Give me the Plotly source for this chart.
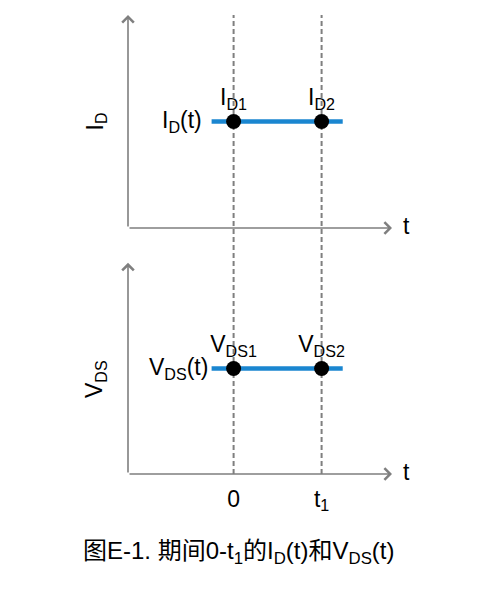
import plotly.graph_objects as go

# time instants marked on the t axis
t_marks = [0, 1]
t_labels = ["0", "t<sub>1</sub>"]
# extent of the plotted waveforms
t_span = [-0.25, 1.24]
t_axis = [-1.2, 1.8]

id_level = [0.5, 0.5]
vds_level = [0.5, 0.5]
id_point_labels = ["I<sub>D1</sub>", "I<sub>D2</sub>"]
vds_point_labels = ["V<sub>DS1</sub>", "V<sub>DS2</sub>"]

FONT = "Liberation Sans, Arial, Noto Sans CJK SC, sans-serif"
BLUE = "#1a86d0"
GRAY = "#7f7f7f"
FS = 23

fig = go.Figure()

for xa, ya, level, labels in [("x", "y", id_level, id_point_labels),
                              ("x2", "y2", vds_level, vds_point_labels)]:
    fig.add_trace(go.Scatter(x=t_span, y=level, mode="lines", xaxis=xa, yaxis=ya,
                             line=dict(color=BLUE, width=4.5), hoverinfo="skip"))
    fig.add_trace(go.Scatter(x=t_marks, y=level, mode="markers+text", xaxis=xa, yaxis=ya,
                             marker=dict(color="black", size=15),
                             text=labels, textposition="top center",
                             textfont=dict(size=FS, color="black", family=FONT),
                             hoverinfo="skip"))

# dashed markers at 0 and t1 crossing both panels
for t in t_marks:
    fig.add_shape(type="line", xref="x", yref="paper", x0=t, x1=t, y0=0.0, y1=1.0,
                  line=dict(color=GRAY, width=2, dash="5px,3px"), layer="below")

ann = []
# axes with arrowheads
for xr, yr in [("x", "y"), ("x2", "y2")]:
    ann.append(dict(x=t_axis[1], y=0, ax=t_axis[0], ay=0, xref=xr, yref=yr, axref=xr, ayref=yr,
                    showarrow=True, arrowhead=4, arrowsize=1.4, arrowwidth=1.6, arrowcolor=GRAY, text=""))
    ann.append(dict(x=t_axis[0], y=1, ax=t_axis[0], ay=0, xref=xr, yref=yr, axref=xr, ayref=yr,
                    showarrow=True, arrowhead=4, arrowsize=1.4, arrowwidth=1.6, arrowcolor=GRAY, text=""))
    ann.append(dict(x=t_axis[1], y=0, xref=xr, yref=yr, text="t", showarrow=False,
                    xanchor="left", xshift=9, yshift=2, font=dict(size=FS)))

ann += [
    dict(x=t_span[0], y=id_level[0], xref="x", yref="y", text="I<sub>D</sub>(t)", showarrow=False,
         xanchor="right", xshift=-8, font=dict(size=FS)),
    dict(x=t_span[0], y=vds_level[0], xref="x2", yref="y2", text="V<sub>DS</sub>(t)", showarrow=False,
         xanchor="right", xshift=-2, font=dict(size=FS)),
    dict(x=t_axis[0], y=0.5, xref="x", yref="y", text="I<sub>D</sub>", showarrow=False,
         textangle=-90, xshift=-32, font=dict(size=FS)),
    dict(x=t_axis[0], y=0.45, xref="x2", yref="y2", text="V<sub>DS</sub>", showarrow=False,
         textangle=-90, xshift=-32, font=dict(size=FS)),
    dict(x=0.5, y=-0.21, xref="paper", yref="paper",
         text="图E-1. 期间0-t<sub>1</sub>的I<sub>D</sub>(t)和V<sub>DS</sub>(t)",
         showarrow=False, font=dict(size=24), xshift=-22),
]

axis_common = dict(range=t_axis, showgrid=False, zeroline=False, showline=False)
fig.update_layout(
    width=479, height=591,
    margin=dict(l=120, r=95, t=7, b=125),
    paper_bgcolor="white", plot_bgcolor="white",
    showlegend=False,
    font=dict(family=FONT, size=FS, color="black"),
    xaxis=dict(axis_common, anchor="y", showticklabels=False),
    yaxis=dict(range=[0, 1], domain=[0.536, 1], showgrid=False, zeroline=False,
               showticklabels=False),
    xaxis2=dict(axis_common, anchor="y2", tickvals=t_marks, ticktext=t_labels,
                ticks="outside", ticklen=4, tickcolor="white",
                tickfont=dict(size=FS)),
    yaxis2=dict(range=[0, 1], domain=[0, 0.46], showgrid=False, zeroline=False,
                showticklabels=False),
    annotations=ann,
)

fig.write_html("out.html")
